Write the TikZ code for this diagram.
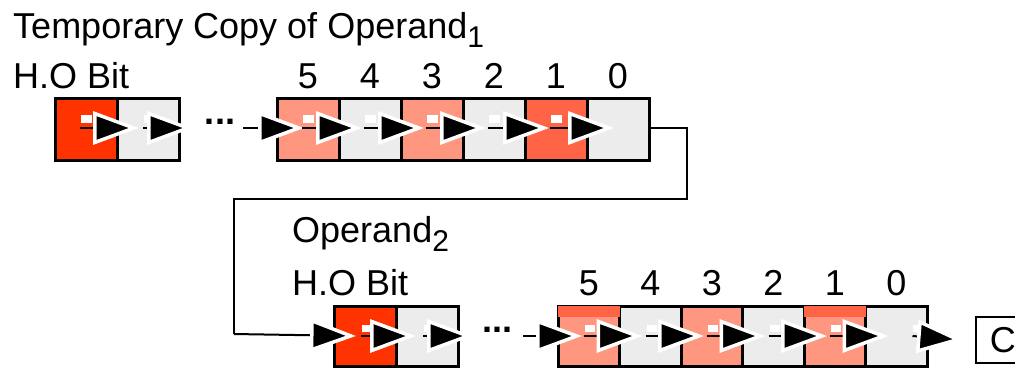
\documentclass[tikz,border=0pt]{standalone}
\usepackage{fontspec}
\setmainfont{Liberation Sans}
\usepackage{tikz}
\usetikzlibrary{arrows.meta, positioning, calc}

\definecolor{hored}{RGB}{255,51,0}
\definecolor{chkred}{RGB}{255,100,70}
\definecolor{chksal}{RGB}{255,150,128}
\definecolor{chkgray}{RGB}{236,236,236}

\begin{document}
\begin{tikzpicture}[x=1pt, y=-1pt,
    cell/.style={rectangle, draw, line width=3pt, minimum width=62pt, minimum height=62pt, inner sep=0pt},
    lowcell/.style={cell, minimum height=60pt},
    hilite/.style={fill=white},
    sharrow/.style={line width=2pt, -{Triangle[length=46pt, width=33pt, color=white, fill=black, line width=3.5pt]}},
    link/.style={line width=2pt},
    lbl/.style={anchor=base, inner sep=0pt, font=\fontsize{36}{40}\selectfont},
    dots/.style={anchor=base, inner sep=0pt, font=\fontsize{36}{40}\selectfont\bfseries}
]
    \useasboundingbox (0,0) rectangle (1015,368);
    \clip (0,0) rectangle (1015,368);

    % texts
    \node[lbl, anchor=base west] (title) at (13,38) {Temporary Copy of Operand\raisebox{-9pt}{\fontsize{30}{30}\selectfont 1}};
    \node[lbl, anchor=base west] (thotext) at (13,88) {H.O Bit};
    \node[lbl, anchor=base west] (optwo) at (292,242) {Operand\raisebox{-9pt}{\fontsize{30}{30}\selectfont 2}};
    \node[lbl, anchor=base west] (bhotext) at (292,295) {H.O Bit};

    % temporary copy of operand 1
    \node[cell, fill=hored] (tho) at (86,129) {};
    \node[cell, fill=chkgray] (tnx) at (148,129) {};
    \node[dots] (tdots) at (220,124) {...};
    \node[cell, fill=chksal] (t5) at (308,129) {};
    \node[cell, fill=chkgray] (t4) at (370,129) {};
    \node[cell, fill=chksal] (t3) at (432,129) {};
    \node[cell, fill=chkgray] (t2) at (494,129) {};
    \node[cell, fill=chkred] (t1) at (556,129) {};
    \node[cell, fill=chkgray] (t0) at (618,129) {};

    \node[lbl] (tn5) at (t5 |- 0,88) {5};
    \node[lbl] (tn4) at (t4 |- 0,88) {4};
    \node[lbl] (tn3) at (t3 |- 0,88) {3};
    \node[lbl] (tn2) at (t2 |- 0,88) {2};
    \node[lbl] (tn1) at (t1 |- 0,88) {1};
    \node[lbl] (tn0) at (t0 |- 0,88) {0};

    % operand 2
    \node[lowcell, fill=hored] (bho) at (365,336) {};
    \node[lowcell, fill=chkgray] (bnx) at (427,336) {};
    \node[dots] (bdots) at (497,332) {...};
    \node[lowcell, fill=chksal] (b5) at (589,336) {};
    \node[lowcell, fill=chkgray] (b4) at (650.5,336) {};
    \node[lowcell, fill=chksal] (b3) at (712,336) {};
    \node[lowcell, fill=chkgray] (b2) at (773.5,336) {};
    \node[lowcell, fill=chksal] (b1) at (835,336) {};
    \node[lowcell, fill=chkgray] (b0) at (896.5,336) {};
    \fill[chkred] ($(b5.north west)+(1.5,1.5)$) rectangle ($(b5.north east)+(-1.5,12)$);
    \fill[chkred] ($(b1.north west)+(1.5,1.5)$) rectangle ($(b1.north east)+(-1.5,12)$);

    \node[lbl] (bn5) at (b5 |- 0,295) {5};
    \node[lbl] (bn4) at (b4 |- 0,295) {4};
    \node[lbl] (bn3) at (b3 |- 0,295) {3};
    \node[lbl] (bn2) at (b2 |- 0,295) {2};
    \node[lbl] (bn1) at (b1 |- 0,295) {1};
    \node[lbl] (bn0) at (b0 |- 0,295) {0};

    \node[draw, line width=1.8pt, anchor=west, minimum width=54pt, minimum height=46pt,
        font=\fontsize{36}{40}\selectfont] (cbit) at (975,340) {C};

    % white marks in the bits
    \fill[hilite] ($(tho)+(-5,-14)$) rectangle ++(11,8);
    \fill[hilite] ($(tnx)+(-4,-14)$) rectangle ++(9,8);
    \fill[hilite] ($(t5)+(-5,-14)$) rectangle ++(11,8);
    \fill[hilite] ($(t4)+(-5,-14)$) rectangle ++(11,8);
    \fill[hilite] ($(t3)+(-5,-14)$) rectangle ++(11,8);
    \fill[hilite] ($(t2)+(-5,-14)$) rectangle ++(11,8);
    \fill[hilite] ($(t1)+(-5,-14)$) rectangle ++(11,8);
    \fill[hilite] ($(bho)+(-3,-11)$) rectangle ++(10,7);
    \fill[hilite] ($(bnx)+(-3,-11)$) rectangle ++(9,7);
    \fill[hilite] ($(b5)+(-4,-11)$) rectangle ++(10,7);
    \fill[hilite] ($(b4)+(-4,-11)$) rectangle ++(10,7);
    \fill[hilite] ($(b3)+(-4,-11)$) rectangle ++(10,7);
    \fill[hilite] ($(b2)+(-4,-11)$) rectangle ++(10,7);
    \fill[hilite] ($(b1)+(-4,-11)$) rectangle ++(10,7);
    \fill[hilite] ($(b0)+(16,-11)$) rectangle ++(10,7);

    % shifting right
    \coordinate (tin) at (243,128);
    \coordinate (bin) at (523,336);
    \coordinate (cr) at (687,199);
    \coordinate (cl) at (234,199);

    \draw[sharrow] ($(tho)+(-6,-1)$) -- ($(tnx)+(-9,-1)$);
    \draw[sharrow] ($(tnx)+(-5,-1)$) -- ++(50,0);
    \draw[sharrow] (tin) -- ($(t5)+(-4,-1)$);
    \draw[sharrow] ($(t5)+(-6,-1)$) -- ($(t4)+(-8,-1)$);
    \draw[sharrow] ($(t4)+(-6,-1)$) -- ($(t3)+(-8,-1)$);
    \draw[sharrow] ($(t3)+(-6,-1)$) -- ($(t2)+(-8,-1)$);
    \draw[sharrow] ($(t2)+(-6,-1)$) -- ($(t1)+(-7,-1)$);
    \draw[sharrow] ($(t1)+(-6,-1)$) -- ($(t0)+(-4,-1)$);

    \draw[link] ($(t0.east)+(-3,-1)$) -| (cr) -- (cl) -- (cl |- 0,334);
    \draw[sharrow] (cl |- 0,334) -- ($(bho)+(-9,0)$);

    \draw[sharrow] ($(bho)+(-4,0)$) -- ($(bnx)+(-11,0)$);
    \draw[sharrow] ($(bnx)+(-4,0)$) -- ++(50,0);
    \draw[sharrow] (bin) -- ($(b5)+(-7,0)$);
    \draw[sharrow] ($(b5)+(-5,0)$) -- ($(b4)+(-8,0)$);
    \draw[sharrow] ($(b4)+(-5,0)$) -- ($(b3)+(-8,0)$);
    \draw[sharrow] ($(b3)+(-5,0)$) -- ($(b2)+(-8,0)$);
    \draw[sharrow] ($(b2)+(-5,0)$) -- ($(b1)+(-8,0)$);
    \draw[sharrow] ($(b1)+(-5,0)$) -- ($(b0)+(-8,0)$);
    \draw[sharrow] ($(b0)+(16,0)$) -- ($(cbit.west)+(-12,0)$);
\end{tikzpicture}
\end{document}
